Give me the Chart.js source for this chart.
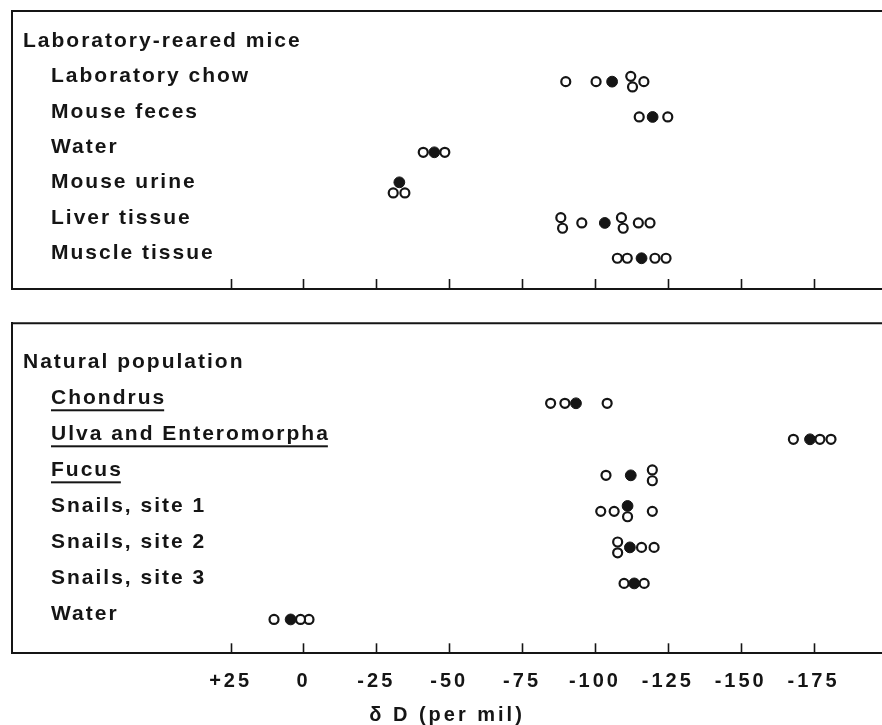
<!DOCTYPE html>
<html>
<head>
<meta charset="utf-8">
<script src="https://cdn.jsdelivr.net/npm/chart.js@4"></script>
<style>
  html, body { margin: 0; padding: 0; background: #fff; }
  #wrap { position: relative; width: 882px; height: 725px; }
  #top { position: absolute; left: 0; top: 0; }
  #bot { position: absolute; left: 0; top: 300px; }
</style>
</head>
<body>
<div id="wrap">
  <canvas id="top" width="882" height="300"></canvas>
  <canvas id="bot" width="882" height="425"></canvas>
</div>
<script>
// ---- data (delta D, per mil) ----
const tickValues = [25, 0, -25, -50, -75, -100, -125, -150, -175];
const tickLabels = ['+25', '0', '-25', '-50', '-75', '-100', '-125', '-150', '-175'];
const axisTitle = 'δ D (per mil)';

const labTitle = 'Laboratory-reared mice';
const labRows = ['Laboratory chow', 'Mouse feces', 'Water', 'Mouse urine', 'Liver tissue', 'Muscle tissue'];
const labOpen = [
  [-90.0, -100.4, -112.3, -112.9, -116.8],
  [-115.2, -125.0],
  [-41.1, -48.5],
  [-30.8, -34.8],
  [-88.3, -88.9, -95.5, -109.1, -109.7, -114.9, -118.9],
  [-107.7, -111.1, -120.6, -124.4]
];
const labMean = [-105.9, -119.8, -44.9, -32.9, -103.4, -116.0];

const natTitle = 'Natural population';
const natRows = ['Chondrus', 'Ulva and Enteromorpha', 'Fucus', 'Snails, site 1', 'Snails, site 2', 'Snails, site 3', 'Water'];
const natOpen = [
  [-84.8, -89.7, -104.2],
  [-168.1, -177.2, -181.0],
  [-103.8, -119.7, -119.7],
  [-102.0, -106.6, -111.2, -119.7],
  [-107.8, -107.8, -116.0, -120.3],
  [-110.0, -116.9],
  [10.1, 1.0, -1.9]
];
const natMean = [-93.5, -173.8, -112.3, -111.2, -112.0, -113.5, 4.4];

const underlinedRows = ['Chondrus', 'Ulva and Enteromorpha', 'Fucus'];

// ---- layout helpers ----
const INK = '#151515';
const STEP = 0.3;     // vertical stacking step for coincident points (in row units)
const THRESH = 2.5;   // values closer than this are stacked

function buildPoints(opens, means) {
  const open = [], mean = [];
  opens.forEach((vals, i) => {
    const r = i + 1;
    const pts = vals.slice().sort((a, b) => a - b).map(v => ({ v, k: 'o' }));
    pts.push({ v: means[i], k: 'm' });
    pts.forEach((p, j) => {
      let L = 0;
      while (pts.slice(0, j).some(q => q.L === L && Math.abs(q.v - p.v) < THRESH)) L++;
      p.L = L;
      p.c = j;
    });
    let changed = true;
    while (changed) {
      changed = false;
      for (const a of pts) for (const b of pts) {
        if (a.c !== b.c && Math.abs(a.v - b.v) < THRESH) {
          const m = Math.min(a.c, b.c); a.c = m; b.c = m; changed = true;
        }
      }
    }
    const maxL = {};
    pts.forEach(p => { maxL[p.c] = Math.max(maxL[p.c] || 0, p.L); });
    pts.forEach(p => {
      const y = r + (maxL[p.c] / 2 - p.L) * STEP;
      (p.k === 'o' ? open : mean).push({ x: p.v, y });
    });
  });
  return { open, mean };
}

const FAMILY = '"Liberation Sans", Arial, sans-serif';
const LABEL_FONT = 'bold 21px ' + FAMILY;

function decorPlugin(title, rows) {
  return {
    id: 'decor',
    beforeDraw(chart) {
      chart.ctx.letterSpacing = '3px';
    },
    afterDraw(chart) {
      const ctx = chart.ctx;
      const a = chart.chartArea;
      const xs = chart.scales.x, ys = chart.scales.y;
      ctx.save();
      ctx.letterSpacing = '0px';
      // top frame line
      ctx.strokeStyle = INK;
      ctx.lineWidth = 2;
      ctx.beginPath();
      ctx.moveTo(a.left - 1, a.top);
      ctx.lineTo(a.right, a.top);
      ctx.stroke();
      // inward tick marks
      ctx.lineWidth = 1.6;
      tickValues.forEach(v => {
        const px = Math.round(xs.getPixelForValue(v)) + 0.5;
        ctx.beginPath();
        ctx.moveTo(px, a.bottom);
        ctx.lineTo(px, a.bottom - 10);
        ctx.stroke();
      });
      // row labels
      ctx.fillStyle = INK;
      ctx.font = LABEL_FONT;
      ctx.letterSpacing = '2px';
      ctx.textBaseline = 'middle';
      ctx.textAlign = 'left';
      const drawLabel = (text, x, y) => {
        ctx.fillText(text, x, y);
        if (underlinedRows.includes(text)) {
          const w = ctx.measureText(text).width - 2;
          ctx.fillRect(x, y + 11, w, 2);
        }
      };
      drawLabel(title, 23, ys.getPixelForValue(0) - 5);
      rows.forEach((t, i) => drawLabel(t, 51, ys.getPixelForValue(i + 1) - 5));
      ctx.restore();
    }
  };
}

function makeChart(id, title, rows, opens, means, opt) {
  const pts = buildPoints(opens, means);
  return new Chart(document.getElementById(id), {
    type: 'scatter',
    data: {
      datasets: [
        { label: 'mean', data: pts.mean, pointStyle: 'circle', pointRadius: 5.4,
          pointBackgroundColor: INK, pointBorderColor: INK, pointBorderWidth: 1, order: 0 },
        { label: 'individual', data: pts.open, pointStyle: 'circle', pointRadius: 4.5,
          pointBackgroundColor: '#fff', pointBorderColor: INK, pointBorderWidth: 2.2, order: 1 }
      ]
    },
    options: {
      responsive: false,
      animation: false,
      devicePixelRatio: 1,
      layout: { autoPadding: false, padding: { left: 12, right: 0, top: opt.padTop, bottom: 0 } },
      plugins: { legend: { display: false }, tooltip: { enabled: false } },
      scales: {
        x: {
          type: 'linear',
          reverse: true,
          min: -198.5,
          max: 100,
          afterBuildTicks: s => { s.ticks = tickValues.map(v => ({ value: v })); },
          afterFit: s => { s.height = opt.xHeight; s.paddingLeft = 0; s.paddingRight = 0; },
          grid: { display: false, drawTicks: false },
          border: { display: true, color: INK, width: 2 },
          ticks: {
            display: opt.showTicks,
            autoSkip: false,
            maxRotation: 0,
            padding: 16,
            color: INK,
            font: { family: FAMILY, size: 20, weight: 'bold' },
            callback: (v, i) => tickLabels[i]
          },
          title: {
            display: opt.showTicks,
            text: axisTitle,
            color: INK,
            font: { family: FAMILY, size: 20, weight: 'bold', lineHeight: 1 },
            padding: { top: 0, bottom: 0 }
          }
        },
        y: {
          type: 'linear',
          reverse: true,
          min: opt.yMin,
          max: opt.yMax,
          afterFit: s => { s.width = 0; s.paddingTop = 0; s.paddingBottom = 0; },
          grid: { display: false, drawTicks: false },
          border: { display: true, color: INK, width: 2 },
          ticks: { display: false }
        }
      }
    },
    plugins: [decorPlugin(title, rows)]
  });
}

makeChart('top', labTitle, labRows, labOpen, labMean,
  { padTop: 11, xHeight: 11, showTicks: false, yMin: -1.0, yMax: 6.87 });
makeChart('bot', natTitle, natRows, natOpen, natMean,
  { padTop: 23.3, xHeight: 71.7, showTicks: true, yMin: -1.22, yMax: 7.94 });
</script>
</body>
</html>
